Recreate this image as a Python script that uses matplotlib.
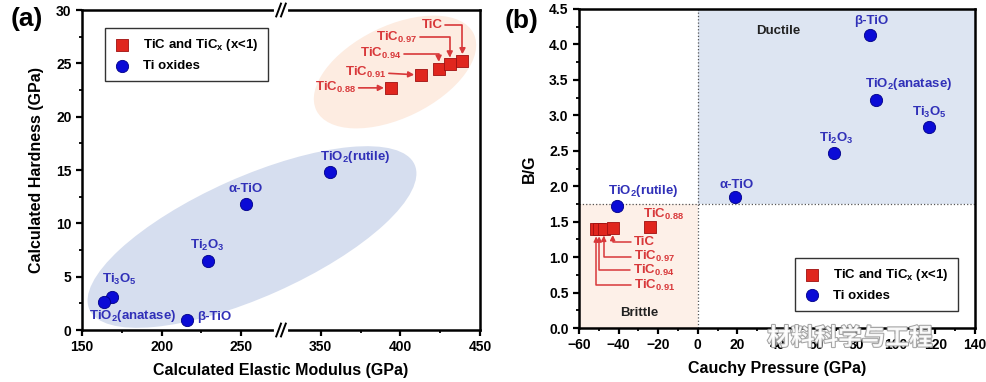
import numpy as np
import matplotlib.pyplot as plt
import matplotlib.patheffects as pe
from matplotlib.patches import Ellipse
from matplotlib.ticker import FixedLocator, MultipleLocator, FormatStrFormatter
from matplotlib import transforms

plt.rcParams['font.family'] = ['Liberation Sans', 'DejaVu Sans']
plt.rcParams['font.weight'] = 'bold'
plt.rcParams['axes.labelweight'] = 'bold'
plt.rcParams['mathtext.fontset'] = 'custom'
plt.rcParams['mathtext.rm'] = 'Liberation Sans:bold'
plt.rcParams['mathtext.bf'] = 'Liberation Sans:bold'
plt.rcParams['mathtext.it'] = 'Liberation Sans:bold'

# data: TiC and TiCx
tic_names = ['TiC$_{0.88}$', 'TiC$_{0.91}$', 'TiC$_{0.94}$', 'TiC$_{0.97}$', 'TiC']
tic_modulus = [394, 413, 424, 431, 439]
tic_hardness = [22.7, 23.9, 24.5, 24.9, 25.2]
tic_cauchy = [-24, -51.3, -49.8, -47.5, -43]
tic_bg = [1.43, 1.39, 1.39, 1.40, 1.41]

# data: Ti oxides
oxide_names = ['TiO$_2$(rutile)', 'α-TiO', 'Ti$_2$O$_3$', 'Ti$_3$O$_5$',
               'TiO$_2$(anatase)', 'β-TiO']
oxide_modulus = [356, 253, 229, 169, 164, 216]
oxide_hardness = [14.8, 11.8, 6.5, 3.1, 2.6, 0.9]
oxide_cauchy = [-41, 19, 69, 117, 90, 87]
oxide_bg = [1.72, 1.85, 2.47, 2.84, 3.21, 4.14]

pugh_limit = 1.75

red = '#e0261e'
red_txt = '#d8383a'
blue = '#0b0bd6'
blue_txt = '#3030b8'

fig = plt.figure(figsize=(9.87, 3.82), dpi=100)
ax1 = fig.add_axes([82 / 987, 52 / 382, 398 / 987, 320 / 382])
ax2 = fig.add_axes([579 / 987, 54 / 382, 396 / 987, 319 / 382])


# broken x axis (275 -> 325 removed)
def fwd(x):
    x = np.asarray(x, float)
    return np.where(x <= 275, x, np.where(x >= 325, x - 50, 275.0))


def inv(y):
    y = np.asarray(y, float)
    return np.where(y <= 275, y, y + 50)


ax1.set_xscale('function', functions=(fwd, inv))
ax1.set_xlim(150, 450)
ax1.set_ylim(0, 30)
ax1.xaxis.set_major_locator(FixedLocator([150, 200, 250, 350, 400, 450]))
ax1.xaxis.set_minor_locator(FixedLocator([175, 225, 375, 425]))
ax1.yaxis.set_major_locator(MultipleLocator(5))
ax1.yaxis.set_minor_locator(MultipleLocator(2.5))
ax1.xaxis.set_major_formatter(FormatStrFormatter('%d'))

# ellipses drawn in axes-pixel units
W1 = 398.0
H1 = 320.0
px1 = transforms.Affine2D().scale(1 / W1, 1 / H1) + ax1.transAxes
ax1.add_patch(Ellipse((170, 93), 356, 120, angle=24, transform=px1,
                      color='#d6deef', zorder=0, lw=0))
ax1.add_patch(Ellipse((313, 258), 175, 92, angle=26, transform=px1,
                      color='#fdece1', zorder=0, lw=0))

ax1.scatter(tic_modulus, tic_hardness, marker='s', s=64, color=red,
            edgecolors='#a01010', linewidths=0.6, zorder=3,
            label='TiC and TiC$_\\mathregular{x}$ (x<1)')
ax1.scatter(oxide_modulus, oxide_hardness, marker='o', s=78, color=blue,
            edgecolors='#000088', linewidths=0.6, zorder=3, label='Ti oxides')

ox_off1 = [(25, 15), (0, 15), (0, 15), (7, 17), (28, -14), (27, 3)]
for n, x, y, (dx, dy) in zip(oxide_names, oxide_modulus, oxide_hardness, ox_off1):
    ax1.annotate(n, (x, y), xytext=(dx, dy), textcoords='offset pixels',
                 ha='center', va='center', color=blue_txt, fontsize=9.5)

tic_off1 = [(-35, 0), (-35, 3), (-37, 15), (-33, 27), (-20, 36)]
for i, (n, x, y, (dx, dy)) in enumerate(zip(tic_names, tic_modulus, tic_hardness, tic_off1)):
    cs = 'arc3' if i < 2 else 'angle,angleA=0,angleB=90,rad=0'
    ax1.annotate(n, (x, y), xytext=(dx, dy), textcoords='offset pixels',
                 ha='right', va='center', color=red_txt, fontsize=9.5,
                 arrowprops=dict(arrowstyle='-|>,head_length=0.35,head_width=0.18',
                                 color=red_txt, lw=1.2, shrinkA=0, shrinkB=5,
                                 connectionstyle=cs))

ax1.legend(loc='upper left', bbox_to_anchor=(0.058, 0.944), borderaxespad=0,
           fancybox=False, edgecolor='#333333', framealpha=1, fontsize=9.5,
           handlelength=1.2, handletextpad=1.0, borderpad=0.7, labelspacing=0.5)

# break marks
for yb in (0, 1):
    ax1.plot([0.488, 0.512], [yb, yb], transform=ax1.transAxes,
             color='white', lw=3, clip_on=False, zorder=5)
    for d in (-0.006, 0.006):
        ax1.plot([0.5 + d - 0.006, 0.5 + d + 0.006], [yb - 0.02, yb + 0.02],
                 transform=ax1.transAxes, color='black', lw=1.4,
                 clip_on=False, zorder=6)

ax1.set_xlabel('Calculated Elastic Modulus (GPa)', fontsize=11.5, labelpad=6)
ax1.set_ylabel('Calculated Hardness (GPa)', fontsize=11.5, labelpad=9)

# right panel
xlim2 = (-60, 140)
ylim2 = (0, 4.5)
ax2.set_xlim(*xlim2)
ax2.set_ylim(*ylim2)
ax2.xaxis.set_major_locator(MultipleLocator(20))
ax2.xaxis.set_minor_locator(MultipleLocator(10))
ax2.yaxis.set_major_locator(MultipleLocator(0.5))
ax2.yaxis.set_minor_locator(MultipleLocator(0.25))
ax2.yaxis.set_major_formatter(FormatStrFormatter('%.1f'))

ax2.fill_between([0, xlim2[1]], pugh_limit, ylim2[1], color='#dde5f2', lw=0, zorder=0)
ax2.fill_between([xlim2[0], 0], ylim2[0], pugh_limit, color='#fdf0e8', lw=0, zorder=0)
ax2.axvline(0, ls=':', color='#555555', lw=0.9, zorder=1)
ax2.axhline(pugh_limit, ls=':', color='#555555', lw=0.9, zorder=1)

ax2.scatter(tic_cauchy, tic_bg, marker='s', s=64, color=red,
            edgecolors='#a01010', linewidths=0.6, zorder=3,
            label='TiC and TiC$_\\mathregular{x}$ (x<1)')
ax2.scatter(oxide_cauchy, oxide_bg, marker='o', s=78, color=blue,
            edgecolors='#000088', linewidths=0.6, zorder=3, label='Ti oxides')

ox_off2 = [(27, 15), (1, 12), (2, 14), (0, 14), (33, 16), (1, 14)]
for n, x, y, (dx, dy) in zip(oxide_names, oxide_cauchy, oxide_bg, ox_off2):
    ax2.annotate(n, (x, y), xytext=(dx, dy), textcoords='offset pixels',
                 ha='center', va='center', color=blue_txt, fontsize=9.5)

tic_off2 = [(-7, 12), (38, -56), (34, -41), (30, -28), (21, -14)]
for i, (n, x, y, (dx, dy)) in enumerate(zip(tic_names, tic_cauchy, tic_bg, tic_off2)):
    if i == 0:
        ax2.annotate(n, (x, y), xytext=(dx, dy), textcoords='offset pixels',
                     ha='left', va='center', color=red_txt, fontsize=9.5)
    else:
        ax2.annotate(n, (x, y), xytext=(dx, dy), textcoords='offset pixels',
                     ha='left', va='center', color=red_txt, fontsize=9.5,
                     arrowprops=dict(arrowstyle='-|>,head_length=0.3,head_width=0.15',
                                     color=red_txt, lw=1.1, shrinkA=0, shrinkB=5,
                                     connectionstyle='angle,angleA=0,angleB=90,rad=0'))

ax2.text(40.5, 4.19, 'Ductile', ha='center', va='center', fontsize=9.5, color='#222222')
ax2.text(-29.5, 0.21, 'Brittle', ha='center', va='center', fontsize=9.5, color='#222222')

ax2.legend(loc='lower right', bbox_to_anchor=(0.957, 0.053), borderaxespad=0,
           fancybox=False, edgecolor='#333333', framealpha=1, fontsize=9.5,
           handlelength=1.2, handletextpad=1.0, borderpad=0.7, labelspacing=0.5)

ax2.set_xlabel('Cauchy Pressure (GPa)', fontsize=11.5, labelpad=6)
ax2.set_ylabel('B/G', fontsize=11.5, labelpad=9)

for ax in (ax1, ax2):
    for s in ax.spines.values():
        s.set_linewidth(1.8)
    ax.tick_params(which='major', direction='out', length=4, width=1.6, labelsize=10)
    ax.tick_params(which='minor', direction='out', length=2.5, width=1.3)

fig.text(27 / 987, 1 - 19 / 382, '(a)', fontsize=19, ha='center', va='center')
fig.text(522 / 987, 1 - 21 / 382, '(b)', fontsize=19, ha='center', va='center')

# watermark
fig.text(850 / 987, 1 - 338 / 382, '材料科学与工程', fontsize=17, ha='center', va='center',
         family=['Noto Sans CJK SC'], color='white', alpha=0.9,
         path_effects=[pe.withStroke(linewidth=1.5, foreground='#999999')])

fig.savefig('out.png', dpi=100)
